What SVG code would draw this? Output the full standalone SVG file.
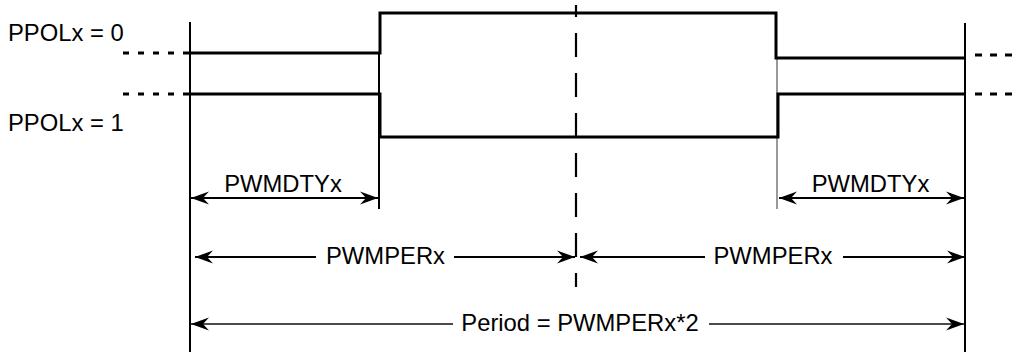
<svg xmlns="http://www.w3.org/2000/svg" width="1016" height="352" viewBox="0 0 1016 352">
<style>
text{font-family:"Liberation Sans",Arial,sans-serif;font-size:23.8px;fill:#000}
.wave{fill:none;stroke:#000;stroke-width:3}
.bound{stroke:#000;stroke-width:2;fill:none}
.dots{stroke:#000;stroke-width:3;stroke-dasharray:6 9;fill:none}
.dim{stroke:#000;stroke-width:2;fill:none}
.thin{stroke:#111;stroke-width:1.3;fill:none}
</style>
<defs>
<marker id="ah" viewBox="-19 -8 20 16" refX="0" refY="0" markerWidth="20" markerHeight="16" markerUnits="userSpaceOnUse" orient="auto-start-reverse">
<path d="M0,0 L-18,-6.5 L-12,0 L-18,6.5 Z" fill="#000"/>
</marker>
</defs>
<g id="labels">
<text x="8" y="41">PPOLx = 0</text>
<text x="8" y="131">PPOLx = 1</text>
</g>
<g id="boundaries">
<line class="bound" x1="190" y1="22" x2="190" y2="352"/>
<line class="bound" x1="965" y1="23" x2="965" y2="352"/>
<line class="bound" x1="379" y1="53" x2="379" y2="209"/>
<line x1="777" y1="58" x2="777" y2="209" stroke="#555" stroke-width="1.2"/>
<line x1="576" y1="5" x2="576" y2="287" stroke="#000" stroke-width="2.2" stroke-dasharray="24 16" stroke-dashoffset="12"/>
</g>
<g id="wave-ppol0">
<line class="dots" x1="123" y1="53" x2="190" y2="53"/>
<polyline class="wave" points="190,53 380,53 380,13 776,13 776,58 965,58"/>
<line class="dots" x1="975" y1="55" x2="1012" y2="55" style="stroke-dasharray:7 8"/>
</g>
<g id="wave-ppol1">
<line class="dots" x1="123" y1="94" x2="190" y2="94"/>
<polyline class="wave" points="190,94 380,94 380,137 778,137 778,94 965,94"/>
<line class="dots" x1="975" y1="94" x2="1012" y2="94" style="stroke-dasharray:7 8"/>
</g>
<g id="connectors">
<line class="dim" x1="191" y1="198" x2="378" y2="198" marker-start="url(#ah)" marker-end="url(#ah)"/>
<line class="dim" x1="779" y1="198" x2="964" y2="198" marker-start="url(#ah)" marker-end="url(#ah)"/>
<line class="dim" x1="195" y1="257" x2="316" y2="257" marker-start="url(#ah)"/>
<line class="dim" x1="454" y1="257" x2="575" y2="257" marker-end="url(#ah)"/>
<line class="dim" x1="580" y1="257" x2="705" y2="257" marker-start="url(#ah)"/>
<line class="dim" x1="843" y1="257" x2="965" y2="257" marker-end="url(#ah)"/>
<line class="thin" x1="191" y1="324" x2="453" y2="324" marker-start="url(#ah)"/>
<line class="thin" x1="709" y1="324" x2="964" y2="324" marker-end="url(#ah)"/>
</g>
<g id="dim-labels">
<text x="283" y="192" text-anchor="middle">PWMDTYx</text>
<text x="870.5" y="192" text-anchor="middle">PWMDTYx</text>
<text x="385.5" y="264" text-anchor="middle">PWMPERx</text>
<text x="773" y="264" text-anchor="middle">PWMPERx</text>
<text x="580" y="331" text-anchor="middle">Period = PWMPERx*2</text>
</g>
</svg>
